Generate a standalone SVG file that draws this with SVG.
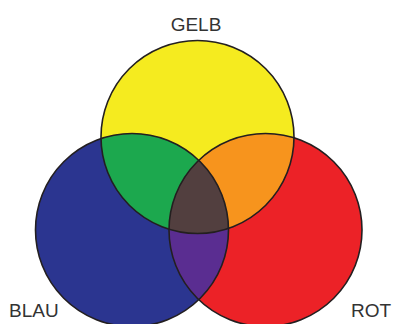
<svg xmlns="http://www.w3.org/2000/svg" width="395" height="324" viewBox="0 0 395 324">
  <style>
    .lbl { font-family: "Liberation Sans", Arial, sans-serif; font-size: 19px; fill: #333333; }
    .outline { fill: none; stroke: #231F20; stroke-width: 1.6; }
  </style>
  <defs>
    <circle id="cY" cx="197.5" cy="137" r="96.5"/>
    <circle id="cB" cx="132" cy="230" r="96.5"/>
    <circle id="cR" cx="265.5" cy="230" r="96.5"/>
    <clipPath id="clipY"><use href="#cY"/></clipPath>
    <clipPath id="clipB"><use href="#cB"/></clipPath>
    <clipPath id="clipR"><use href="#cR"/></clipPath>
  </defs>
  <rect width="395" height="324" fill="#ffffff"/>

  <g id="gelb">
    <use href="#cY" fill="#F5EB1F"/>
  </g>
  <g id="blau">
    <use href="#cB" fill="#2B3590"/>
  </g>
  <g id="rot">
    <use href="#cR" fill="#EC2227"/>
  </g>
  <g id="gruen">
    <use href="#cB" fill="#1CA84E" clip-path="url(#clipY)"/>
  </g>
  <g id="orange">
    <use href="#cR" fill="#F7941D" clip-path="url(#clipY)"/>
  </g>
  <g id="violett">
    <use href="#cR" fill="#5A2D91" clip-path="url(#clipB)"/>
  </g>
  <g id="braun">
    <g clip-path="url(#clipR)">
      <use href="#cB" fill="#523F3F" clip-path="url(#clipY)"/>
    </g>
  </g>

  <g id="outlines">
    <use href="#cY" class="outline"/>
    <use href="#cB" class="outline"/>
    <use href="#cR" class="outline"/>
  </g>

  <g id="labels">
    <text class="lbl" x="196" y="31" text-anchor="middle">GELB</text>
    <text class="lbl" x="9" y="316.5">BLAU</text>
    <text class="lbl" x="351" y="316.5">ROT</text>
  </g>
</svg>
